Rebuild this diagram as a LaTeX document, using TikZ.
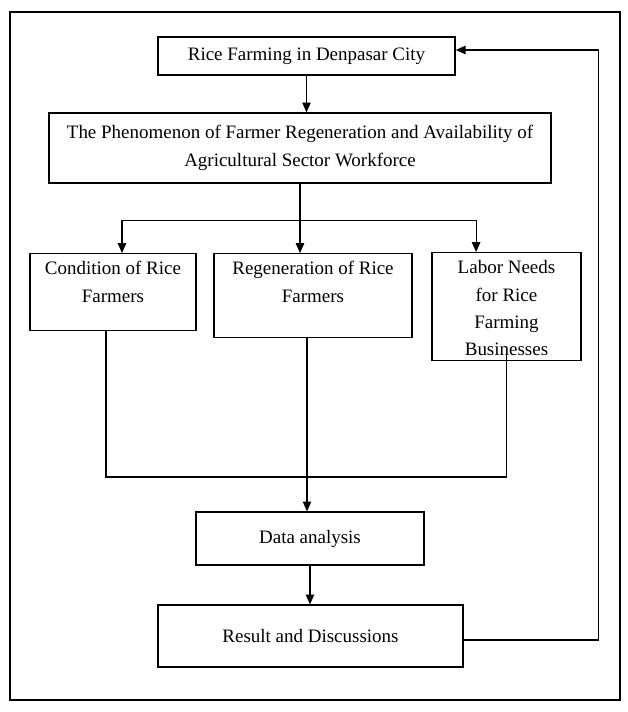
\documentclass[tikz,border=0pt]{standalone}
\usepackage{fontspec}
\setmainfont{Liberation Serif}
\usetikzlibrary{arrows.meta}

\tikzset{
	box/.style={draw, line width=0.9pt, inner sep=0pt, align=center},
	link/.style={line width=0.8pt},
	arr/.style={link, -{Triangle[length=7pt,width=6pt]}}
}
\newcommand{\topbox}[3]{\parbox[c][#1][t]{#2}{\centering\rule{0pt}{15pt}#3}}

\begin{document}
\begin{tikzpicture}[x=0.025cm,y=-0.025cm,font=\fontsize{13.5}{19.5}\selectfont]
				\useasboundingbox (0,0) rectangle (628,712);
				\draw[line width=0.9pt] (10,12) rectangle (620,700);
				
				\node[box, minimum width=7.425cm, minimum height=0.95cm] (rice) at (306.5,56) {Rice Farming in Denpasar City};
				\node[box, minimum width=12.55cm, minimum height=1.75cm] (phen) at (300,148) {The Phenomenon of Farmer Regeneration and Availability of\\Agricultural Sector Workforce};
				
				\node[box, anchor=north] (cond) at (113,253) {\topbox{1.925cm}{4.15cm}{Condition of Rice\\Farmers}};
				\node[box, anchor=north] (regen) at (313,253) {\topbox{2.1cm}{4.95cm}{Regeneration of Rice\\Farmers}};
				\node[box, anchor=north] (labor) at (506.5,252) {\topbox{2.7cm}{3.725cm}{Labor Needs\\for Rice\\Farming\\Businesses}};
				
				\node[box, minimum width=5.7cm, minimum height=1.325cm] (data) at (310,538.5) {Data analysis};
				\node[box, minimum width=7.625cm, minimum height=1.55cm] (res) at (310.5,636) {Result and Discussions};
				
				\coordinate (split) at ([yshift=-0.925cm]phen.south);
				\coordinate (merge) at (307,477);
				
				\draw[arr] (rice.south) -- (rice.south |- phen.north);
				\draw[link] (phen.south) -- (split);
				\draw[arr] (split) -| ([xshift=0.225cm]cond.north);
				\draw[arr] (split) -- (split |- regen.north);
				\draw[arr] (split) -| ([xshift=-0.76cm]labor.north);
				
				\draw[link] ([xshift=-0.175cm]cond.south) |- (merge) -| ([yshift=0.25cm]labor.south);
				\draw[arr] ([xshift=-0.15cm]regen.south) -- ([xshift=-0.15cm]regen.south |- data.north);
				\draw[arr] (data.south) -- (data.south |- res.north);
				\draw[arr] ([yshift=-0.1cm]res.east) -- ++(135,0) |- ([yshift=0.15cm]rice.east);
			\end{tikzpicture}
\end{document}
